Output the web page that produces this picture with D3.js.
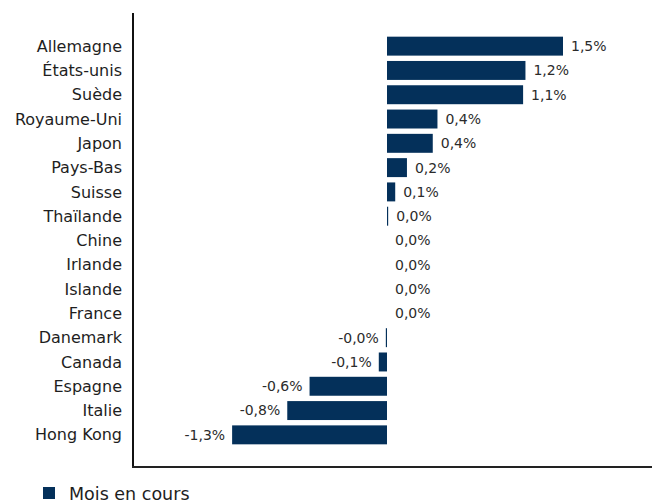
<!DOCTYPE html>
<html>
<head>
<meta charset="utf-8">
<script src="https://cdn.jsdelivr.net/npm/d3@7"></script>
<style>
  body { margin: 0; background: #fff; }
  svg text { font-family: "DejaVu Sans", sans-serif; }
</style>
</head>
<body>
<div class="chart"></div>
<script>
// Data
const countries = ['Allemagne', 'États-unis', 'Suède', 'Royaume-Uni', 'Japon', 'Pays-Bas', 'Suisse',
  'Thaïlande', 'Chine', 'Irlande', 'Islande', 'France', 'Danemark', 'Canada', 'Espagne', 'Italie', 'Hong Kong'];
const values = [1.50, 1.18, 1.16, 0.43, 0.39, 0.17, 0.07, 0.01, 0, 0, 0, 0, -0.01, -0.07, -0.66, -0.85, -1.32];
const valueLabels = ['1,5%', '1,2%', '1,1%', '0,4%', '0,4%', '0,2%', '0,1%', '0,0%', '0,0%', '0,0%', '0,0%',
  '0,0%', '-0,0%', '-0,1%', '-0,6%', '-0,8%', '-1,3%'];
const seriesName = 'Mois en cours';

const width = 652;
const height = 501;
const barColor = '#04305a';

const svg = d3.select('.chart')
  .append('svg')
  .attr('width', width)
  .attr('height', height);

// scales
const x = d3.scaleLinear().domain([0, 1.5]).range([387, 563]);
const y = d3.scaleBand().domain(countries).range([34, 447]).paddingInner(0.22).paddingOuter(0.11);

// bars
svg.append('g')
  .selectAll('rect')
  .data(values)
  .enter()
  .append('rect')
  .attr('x', d => Math.min(x(d), x(0)))
  .attr('y', (d, i) => y(countries[i]))
  .attr('width', d => Math.abs(x(d) - x(0)))
  .attr('height', y.bandwidth())
  .attr('fill', barColor);

// value labels
svg.append('g')
  .selectAll('text')
  .data(values)
  .enter()
  .append('text')
  .attr('x', d => d < 0 ? x(d) - 7 : x(d) + 8)
  .attr('y', (d, i) => y(countries[i]) + y.bandwidth() / 2)
  .attr('dy', '0.35em')
  .attr('text-anchor', d => d < 0 ? 'end' : 'start')
  .attr('font-size', 14)
  .attr('fill', '#2b2b2b')
  .text((d, i) => valueLabels[i]);

// category axis labels
svg.append('g')
  .selectAll('text')
  .data(countries)
  .enter()
  .append('text')
  .attr('x', 122)
  .attr('y', d => y(d) + y.bandwidth() / 2)
  .attr('dy', '0.35em')
  .attr('text-anchor', 'end')
  .attr('font-size', 16)
  .attr('fill', '#1e1e1e')
  .text(d => d);

// frame lines
svg.append('line')
  .attr('x1', 133).attr('x2', 133)
  .attr('y1', 13).attr('y2', 468)
  .attr('stroke', '#111').attr('stroke-width', 2);
svg.append('line')
  .attr('x1', 132).attr('x2', width)
  .attr('y1', 467).attr('y2', 467)
  .attr('stroke', '#222').attr('stroke-width', 2);

// legend
const legend = svg.append('g').attr('transform', 'translate(43,487)');
legend.append('rect')
  .attr('width', 12)
  .attr('height', 12)
  .attr('fill', barColor);
legend.append('text')
  .attr('x', 26)
  .attr('y', 13)
  .attr('font-size', 17.5)
  .attr('fill', '#1e1e1e')
  .text(seriesName);
</script>
</body>
</html>
